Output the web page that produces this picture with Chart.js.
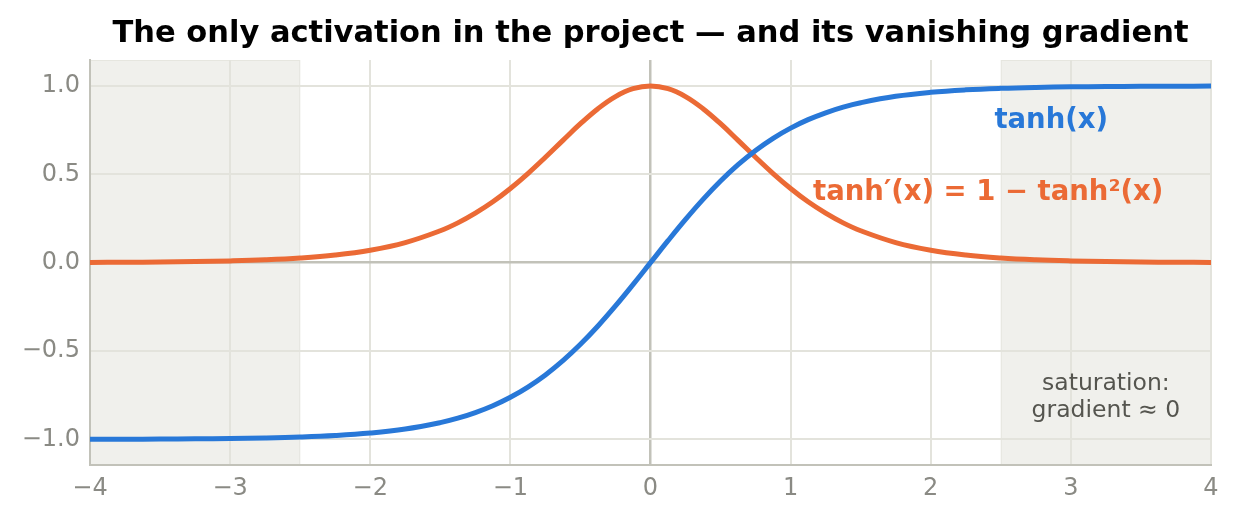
<!DOCTYPE html>
<html lang="en">
<head>
    <meta charset="utf-8">
    <title>tanh and its gradient</title>
    <script src="https://cdn.jsdelivr.net/npm/chart.js@4.4.1/dist/chart.umd.min.js"></script>
    <style>
        body {
            margin: 0;
            background: #ffffff;
        }
        #wrap {
            width: 1240px;
            height: 520px;
        }
    </style>
</head>
<body>
    <div id="wrap"><canvas id="chart" width="1240" height="520"></canvas></div>
    <script>
        // values (denser around the middle where the curves bend)
        const xValues = [-4, -3.75, -3.5, -3.25, -3, -2.75, -2.5, -2.25, -2, -1.75, -1.5,
            -1.375, -1.25, -1.125, -1, -0.875, -0.75, -0.625, -0.5, -0.375, -0.25, -0.125,
            0, 0.125, 0.25, 0.375, 0.5, 0.625, 0.75, 0.875, 1, 1.125, 1.25, 1.375,
            1.5, 1.75, 2, 2.25, 2.5, 2.75, 3, 3.25, 3.5, 3.75, 4];
        const tanhValues = [-0.9993, -0.9989, -0.9982, -0.9970, -0.9951, -0.9919, -0.9866, -0.9780, -0.9640, -0.9414, -0.9051,
            -0.8802, -0.8483, -0.8095, -0.7616, -0.7039, -0.6351, -0.5546, -0.4621, -0.3584, -0.2449, -0.1244,
            0, 0.1244, 0.2449, 0.3584, 0.4621, 0.5546, 0.6351, 0.7039, 0.7616, 0.8095, 0.8483, 0.8802,
            0.9051, 0.9414, 0.9640, 0.9780, 0.9866, 0.9919, 0.9951, 0.9970, 0.9982, 0.9989, 0.9993];
        const gradValues = [0.0013, 0.0022, 0.0036, 0.0060, 0.0099, 0.0162, 0.0266, 0.0435, 0.0707, 0.1138, 0.1807,
            0.2253, 0.2804, 0.3447, 0.4200, 0.5045, 0.5966, 0.6924, 0.7864, 0.8716, 0.9400, 0.9845,
            1, 0.9845, 0.9400, 0.8716, 0.7864, 0.6924, 0.5966, 0.5045, 0.4200, 0.3447, 0.2804, 0.2253,
            0.1807, 0.1138, 0.0707, 0.0435, 0.0266, 0.0162, 0.0099, 0.0060, 0.0036, 0.0022, 0.0013];
        const saturationBands = [[-4, -2.5], [2.5, 4]];
        const xTicks = [-4, -3, -2, -1, 0, 1, 2, 3, 4];
        const yTicks = [-1, -0.5, 0, 0.5, 1];

        const FONT = "'DejaVu Sans', sans-serif";
        const BLUE = '#2878d8';
        const ORANGE = '#eb6a35';
        const GRID = '#e3e3dc';
        const AXIS = '#c2c2b9';
        const TICK = '#8a8a84';

        function fmt(v, digits) {
            return v.toFixed(digits).replace('-', '\u2212');
        }

        // shaded saturation zones, under the grid
        const bandsPlugin = {
            id: 'bands',
            beforeDraw(chart) {
                const { ctx, chartArea, scales } = chart;
                ctx.save();
                saturationBands.forEach(([a, b]) => {
                    const x1 = scales.x.getPixelForValue(a);
                    const x2 = scales.x.getPixelForValue(b);
                    ctx.fillStyle = '#f0f0ec';
                    ctx.fillRect(x1, chartArea.top, x2 - x1, chartArea.bottom - chartArea.top);
                    ctx.strokeStyle = '#e6e6df';
                    ctx.lineWidth = 1;
                    ctx.strokeRect(x1 + 0.5, chartArea.top + 0.5, x2 - x1 - 1, chartArea.bottom - chartArea.top - 1);
                });
                ctx.restore();
            }
        };

        // text annotations placed in data coordinates
        const labelsPlugin = {
            id: 'labels',
            afterDatasetsDraw(chart) {
                const { ctx, scales } = chart;
                const px = v => scales.x.getPixelForValue(v);
                const py = v => scales.y.getPixelForValue(v);
                ctx.save();
                ctx.textAlign = 'center';
                ctx.textBaseline = 'middle';

                ctx.font = 'bold 27.5px ' + FONT;
                ctx.fillStyle = BLUE;
                ctx.fillText('tanh(x)', px(2.86), py(0.805));

                ctx.fillStyle = ORANGE;
                ctx.fillText('tanh\u2032(x) = 1 \u2212 tanh\u00b2(x)', px(2.41), py(0.395));

                ctx.font = '23.5px ' + FONT;
                ctx.fillStyle = '#55554f';
                ctx.fillText('saturation:', px(3.25), py(-0.685));
                ctx.fillText('gradient \u2248 0', px(3.25), py(-0.84));
                ctx.restore();
            }
        };

        const ctx = document.getElementById('chart').getContext('2d');
        new Chart(ctx, {
            type: 'line',
            data: {
                datasets: [{
                    label: 'tanh(x)',
                    data: xValues.map((x, i) => ({ x: x, y: tanhValues[i] })),
                    borderColor: BLUE,
                    borderWidth: 5,
                    pointRadius: 0,
                    tension: 0.4,
                    fill: false
                }, {
                    label: "tanh'(x)",
                    data: xValues.map((x, i) => ({ x: x, y: gradValues[i] })),
                    borderColor: ORANGE,
                    borderWidth: 5,
                    pointRadius: 0,
                    tension: 0.4,
                    fill: false
                }]
            },
            options: {
                responsive: false,
                animation: false,
                devicePixelRatio: 1,
                layout: {
                    padding: { left: 0, right: 29, top: 0, bottom: 0 }
                },
                plugins: {
                    legend: { display: false },
                    tooltip: { enabled: false },
                    title: {
                        display: true,
                        fullSize: false,
                        text: 'The only activation in the project \u2014 and its vanishing gradient',
                        color: '#000000',
                        font: { family: FONT, size: 30.5, weight: 'bold', lineHeight: 1.2 },
                        padding: { top: 16, bottom: 7.4 }
                    }
                },
                scales: {
                    x: {
                        type: 'linear',
                        min: -4,
                        max: 4,
                        afterBuildTicks: scale => {
                            scale.ticks = xTicks.map(v => ({ value: v }));
                        },
                        afterFit: scale => { scale.height = 55; },
                        ticks: {
                            color: TICK,
                            font: { family: FONT, size: 24 },
                            padding: 9,
                            maxRotation: 0,
                            callback: v => fmt(v, 0)
                        },
                        grid: {
                            color: c => c.tick && c.tick.value === 0 ? AXIS : GRID,
                            lineWidth: c => c.tick && c.tick.value === 0 ? 2.5 : 2,
                            drawTicks: false
                        },
                        border: { display: true, color: AXIS, width: 2 }
                    },
                    y: {
                        type: 'linear',
                        min: -1.145,
                        max: 1.147,
                        afterBuildTicks: scale => {
                            scale.ticks = yTicks.map(v => ({ value: v }));
                        },
                        afterFit: scale => { scale.width = 90; },
                        ticks: {
                            color: TICK,
                            font: { family: FONT, size: 24 },
                            padding: 10,
                            callback: v => fmt(v, 1)
                        },
                        grid: {
                            color: c => c.tick && c.tick.value === 0 ? AXIS : GRID,
                            lineWidth: c => c.tick && c.tick.value === 0 ? 2.5 : 2,
                            drawTicks: false
                        },
                        border: { display: true, color: AXIS, width: 2 }
                    }
                }
            },
            plugins: [bandsPlugin, labelsPlugin]
        });
    </script>
</body>
</html>
